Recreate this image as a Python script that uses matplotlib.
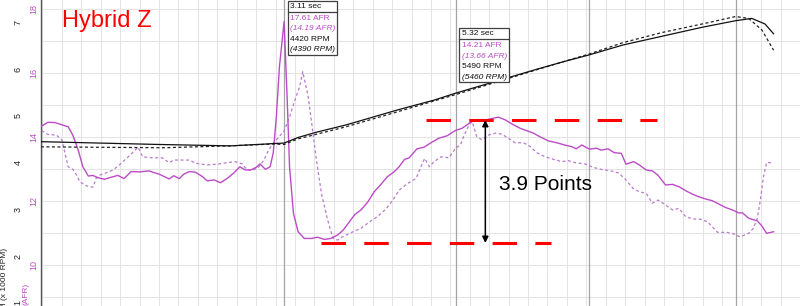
import matplotlib
matplotlib.use("Agg")
import matplotlib.pyplot as plt
from matplotlib.patches import Rectangle
import numpy as np

plt.rcParams['font.family'] = ['Liberation Sans', 'DejaVu Sans']

# ---------------- data (time in s) ----------------
afr_t = [-0.01, 0.07, 0.16, 0.25, 0.33, 0.39, 0.46, 0.52, 0.59, 0.65, 0.71, 0.80, 0.88, 0.97,
         1.05, 1.14, 1.25, 1.37, 1.50, 1.57, 1.63, 1.69, 1.76, 1.82, 1.89, 1.97, 2.06, 2.12,
         2.21, 2.29, 2.38, 2.46, 2.54, 2.61, 2.68, 2.75, 2.80, 2.87, 2.93, 2.97, 3.01, 3.05,
         3.11, 3.15, 3.18, 3.23, 3.29, 3.37, 3.46, 3.54, 3.63, 3.71, 3.80, 3.87, 3.95, 4.02,
         4.10, 4.19, 4.27, 4.36, 4.44, 4.53, 4.59, 4.66, 4.72, 4.82, 4.91, 5.00, 5.10, 5.21,
         5.32, 5.40, 5.51, 5.53, 5.70, 5.79, 5.87, 5.96, 6.04, 6.15, 6.23, 6.32, 6.40, 6.51,
         6.62, 6.72, 6.81, 6.87, 6.94, 7.04, 7.13, 7.19, 7.28, 7.36, 7.45, 7.51, 7.61, 7.68,
         7.77, 7.85, 7.92, 8.02, 8.11, 8.19, 8.28, 8.37, 8.45, 8.54, 8.62, 8.71, 8.79, 8.88,
         8.96, 9.01, 9.09, 9.20, 9.26, 9.32, 9.41]
afr_run1 = [14.34, 14.46, 14.45, 14.38, 14.32, 14.06, 13.59, 13.07, 12.78, 12.80, 12.73, 12.68,
            12.74, 12.80, 12.70, 12.92, 12.91, 12.94, 12.84, 12.76, 12.69, 12.79, 12.70, 12.84,
            12.92, 12.90, 12.76, 12.63, 12.66, 12.57, 12.71, 12.87, 13.07, 12.97, 12.97, 13.05,
            13.16, 12.99, 13.07, 13.50, 14.63, 16.20, 17.61, 15.16, 13.07, 11.62, 11.04, 10.83,
            10.83, 10.87, 10.80, 10.83, 10.94, 11.09, 11.35, 11.58, 11.72, 11.98, 12.29, 12.53,
            12.76, 12.92, 13.07, 13.30, 13.35, 13.63, 13.68, 13.82, 13.96, 14.04, 14.21, 14.27,
            14.46, 14.51, 14.53, 14.58, 14.62, 14.53, 14.41, 14.27, 14.20, 14.12, 14.01, 13.88,
            13.82, 13.75, 13.70, 13.63, 13.75, 13.62, 13.65, 13.59, 13.63, 13.51, 13.49, 13.15,
            13.23, 13.13, 12.97, 12.94, 12.81, 12.50, 12.52, 12.45, 12.32, 12.21, 12.13, 12.06,
            12.01, 11.90, 11.80, 11.72, 11.63, 11.63, 11.46, 11.38, 11.22, 10.99, 11.04]

afr2_t = [-0.01, 0.07, 0.18, 0.25, 0.29, 0.33, 0.39, 0.44, 0.48, 0.57, 0.65, 0.69, 0.74, 0.82,
          0.91, 0.99, 1.08, 1.16, 1.23, 1.29, 1.42, 1.54, 1.63, 1.69, 1.78, 1.89, 1.97, 2.12,
          2.25, 2.38, 2.48, 2.57, 2.63, 2.70, 2.78, 2.85, 2.91, 2.97, 3.11, 3.18, 3.25, 3.31,
          3.35, 3.42, 3.46, 3.52, 3.59, 3.67, 3.74, 3.80, 3.86, 3.97, 4.10, 4.21, 4.32, 4.42,
          4.51, 4.59, 4.70, 4.81, 4.87, 4.92, 4.98, 5.04, 5.13, 5.23, 5.32, 5.38, 5.42, 5.49,
          5.53, 5.59, 5.66, 5.74, 5.83, 5.91, 6.00, 6.08, 6.19, 6.28, 6.36, 6.47, 6.58, 6.68,
          6.77, 6.85, 6.98, 7.09, 7.19, 7.30, 7.41, 7.49, 7.60, 7.68, 7.77, 7.85, 7.92, 8.00,
          8.11, 8.19, 8.28, 8.37, 8.47, 8.56, 8.62, 8.69, 8.81, 8.90, 8.98, 9.09, 9.15, 9.20,
          9.24, 9.28, 9.32, 9.40]
afr_run2 = [14.20, 14.08, 14.06, 13.91, 13.49, 13.07, 12.99, 12.81, 12.60, 12.47, 12.43, 12.71,
            12.81, 12.88, 12.97, 13.13, 13.33, 13.51, 13.68, 13.38, 13.35, 13.35, 13.20, 13.28,
            13.28, 13.28, 13.18, 13.13, 13.15, 13.20, 13.23, 13.16, 12.99, 12.95, 13.05, 13.28,
            13.59, 13.80, 14.19, 14.63, 15.16, 15.57, 16.04, 15.26, 14.53, 13.38, 12.24, 11.41,
            10.83, 10.78, 10.88, 11.01, 11.15, 11.35, 11.53, 11.75, 12.03, 12.34, 12.55, 12.71,
            13.07, 13.33, 13.07, 13.23, 13.38, 13.35, 13.66, 13.75, 14.01, 14.38, 14.48, 14.01,
            13.91, 14.06, 14.12, 14.09, 13.96, 13.82, 13.82, 13.70, 13.51, 13.38, 13.30, 13.23,
            13.26, 13.20, 13.16, 13.05, 12.99, 12.95, 12.88, 12.71, 12.40, 12.29, 12.24, 11.93,
            12.03, 11.91, 11.72, 11.77, 11.51, 11.44, 11.43, 11.35, 11.20, 11.02, 11.02, 10.97,
            10.88, 10.99, 11.15, 11.46, 12.03, 12.76, 13.20, 13.20]

rpm_t = [-0.02, 0.74, 1.50, 2.42, 2.88, 2.97, 3.11, 3.29, 3.52, 3.91, 4.57, 5.04, 5.32, 6.36,
         6.70, 7.04, 7.47, 7.98, 8.49, 8.92, 9.13, 9.30, 9.41]
rpm_run1 = [4.45, 4.42, 4.39, 4.36, 4.40, 4.41, 4.42, 4.54, 4.65, 4.81, 5.13, 5.34, 5.49, 6.00,
            6.16, 6.31, 6.52, 6.71, 6.90, 7.04, 7.09, 6.97, 6.76]

rpm2_t = [-0.02, 0.74, 1.57, 2.40, 2.97, 3.11, 3.29, 3.91, 4.57, 5.32, 6.36, 7.04, 7.47, 7.98,
          8.49, 8.92, 9.09, 9.26, 9.41]
rpm_run2 = [4.34, 4.33, 4.32, 4.36, 4.40, 4.39, 4.51, 4.77, 5.09, 5.46, 5.99, 6.33, 6.57, 6.79,
            6.97, 7.13, 7.09, 6.84, 6.41]

cursor_t = [3.11, 5.32]
cursor_afr1 = [17.61, 14.21]
cursor_afr2 = [14.19, 13.66]
cursor_rpm1 = [4420, 5490]
cursor_rpm2 = [4390, 5460]
extra_markers_t = [7.04, 8.92]

peak_afr = 14.53
trough_afr = 10.69
peak_span = [4.94, 7.91]
trough_span = [3.59, 6.55]
arrow_t = 5.70
diff_label = "3.9 Points"
title = "Hybrid Z"

afr_ticks = [10, 12, 14, 16, 18]
rpm_ticks = [1, 2, 3, 4, 5, 6, 7]

# ---------------- figure ----------------
W, H = 800, 306
MAG = '#bb4cc6'
MAG2 = '#b77ccb'

fig = plt.figure(figsize=(W / 100, H / 100), dpi=100)
ax = fig.add_axes([41 / W, 0, (W - 41) / W, 1])
ax.set_xlim(-0.019, 9.687)
ax.set_ylim(8.72, 18.28)
ax2 = ax.twinx()
ax2.set_ylim(0.931, 7.484)

for a in (ax, ax2):
    for s in a.spines.values():
        s.set_visible(False)
ax.spines['left'].set_visible(True)
ax.spines['left'].set_color('#555555')
ax.spines['left'].set_linewidth(1.0)

# grid
ax.set_xticks(np.arange(0, 9.76, 0.25))
ax.set_yticks(afr_ticks)
ax.set_yticks(np.arange(9, 19, 2), minor=True)
ax.grid(True, which='both', color='#e4e4e4', lw=0.75, zorder=0)
ax.set_axisbelow(True)
ax.tick_params(axis='x', length=0, labelbottom=False)
ax.tick_params(axis='y', which='both', length=0)
ax.tick_params(axis='y', which='major', labelrotation=90, pad=5.4, labelsize=6.5, labelcolor=MAG)

ax2.yaxis.set_ticks_position('left')
ax2.set_yticks(rpm_ticks)
ax2.tick_params(axis='y', length=0, labelrotation=90, pad=16.6, labelsize=6.5, labelcolor='#222222')
ax2.set_yticklabels([str(v) for v in rpm_ticks])
ax.set_yticklabels([str(v) for v in afr_ticks])
for a in (ax, ax2):
    for tk in a.yaxis.get_major_ticks():
        tk.label1.set_horizontalalignment('center')
        tk.label1.set_verticalalignment('center')

# cursor lines
for t in cursor_t + extra_markers_t:
    ax.axvline(t, color='#a5a5a5', lw=0.9, zorder=1)

# curves
ax.plot(afr2_t, afr_run2, color=MAG2, lw=0.9, ls=(0, (2.4, 2.0)), zorder=3)
ax.plot(afr_t, afr_run1, color=MAG, lw=1.0, zorder=4)
ax2.plot(rpm2_t, rpm_run2, color='#222222', lw=0.9, ls=(0, (2.4, 2.0)), zorder=3)
ax2.plot(rpm_t, rpm_run1, color='#111111', lw=0.9, zorder=4)

# red dashed reference lines + arrow
ax.plot(peak_span, [peak_afr, peak_afr], color='#ff0000', lw=2.2, ls=(0, (8, 6)),
        solid_capstyle='butt', dash_capstyle='butt', zorder=5)
ax.plot(trough_span, [trough_afr, trough_afr], color='#ff0000', lw=2.2, ls=(0, (8, 6)),
        solid_capstyle='butt', dash_capstyle='butt', zorder=5)
ax.annotate('', xy=(arrow_t, peak_afr), xytext=(arrow_t, trough_afr),
            arrowprops=dict(arrowstyle='<|-|>', color='black', lw=1.1,
                            mutation_scale=9, shrinkA=0, shrinkB=0), zorder=6)
ax.text(5.87, 12.53, diff_label, fontsize=15, color='black', ha='left', va='center', zorder=6)

fig.text(62 / W, 1 - 26.7 / H, title, color='#ff0000', fontsize=17, ha='left', va='baseline')

# axis labels
fig.text(5 / W, 1 - 248 / H, 'RPM (x 1000 RPM)', rotation=90, fontsize=6, ha='center', va='top',
         color='#222222')
fig.text(25.5 / W, 1 - 283 / H, '(AFR)', rotation=90, fontsize=6, ha='center', va='top', color=MAG)

# cursor callouts
box_tops = [1.0, 28.3]
fig.canvas.draw()
for i, t in enumerate(cursor_t):
    xpix = ax.transData.transform((t, 10))[0] + 3.5
    top = box_tops[i]
    bw, bh = 49.5, 53.5
    fx = lambda px: px / W
    fy = lambda py: 1 - py / H
    rect = Rectangle((fx(xpix), fy(top + bh)), bw / W, bh / H, transform=fig.transFigure,
                     facecolor='white', edgecolor='#404040', lw=0.9, zorder=10)
    fig.add_artist(rect)
    fig.add_artist(plt.Line2D([fx(xpix), fx(xpix + bw)], [fy(top + 10.7), fy(top + 10.7)],
                              transform=fig.transFigure, color='#404040', lw=0.9, zorder=11))
    lines = [(f"{t:.2f} sec", '#111111', 'normal'),
             (f"{cursor_afr1[i]:.2f} AFR", MAG, 'normal'),
             (f"({cursor_afr2[i]:.2f} AFR)", MAG, 'italic'),
             (f"{cursor_rpm1[i]} RPM", '#111111', 'normal'),
             (f"({cursor_rpm2[i]} RPM)", '#111111', 'italic')]
    offs = [5.5, 17.2, 28.0, 38.3, 48.8]
    for (txt, col, sty), o in zip(lines, offs):
        fig.text(fx(xpix + 2.5), fy(top + o), txt, color=col, style=sty, fontsize=6,
                 ha='left', va='center', zorder=12)

fig.savefig('out.png', dpi=100)
